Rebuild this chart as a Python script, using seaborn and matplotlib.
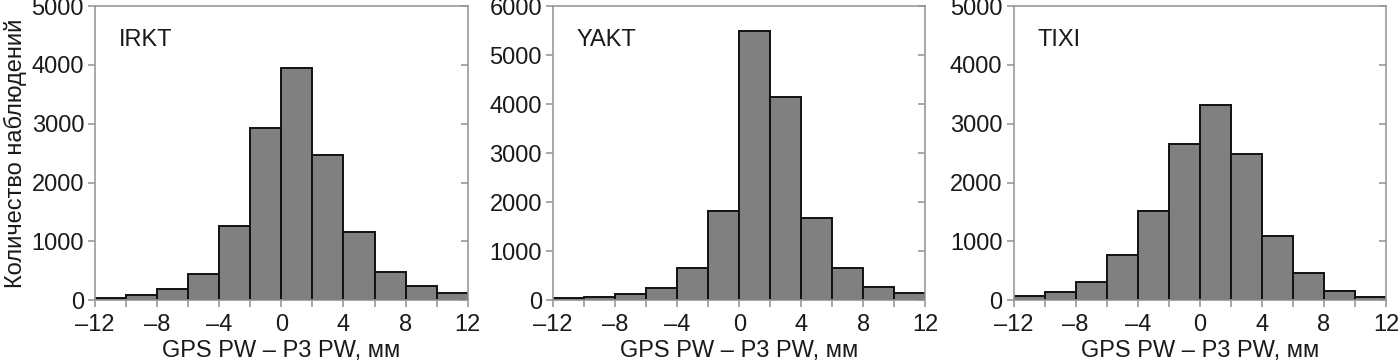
import numpy as np
import pandas as pd
import matplotlib
matplotlib.use("Agg")
import matplotlib.pyplot as plt
import seaborn as sns
from matplotlib.ticker import MultipleLocator

# bin edges (mm) and counts
bin_edges = np.arange(-12, 13, 2)
bin_centers = bin_edges[:-1] + 1

irkt = [40, 80, 190, 450, 1260, 2920, 3940, 2470, 1150, 480, 240, 115]
yakt = [40, 60, 115, 245, 650, 1825, 5490, 4140, 1680, 650, 265, 135]
tixi = [70, 135, 310, 765, 1510, 2650, 3325, 2490, 1085, 460, 150, 50]

stations = ["IRKT", "YAKT", "TIXI"]
counts = [irkt, yakt, tixi]
ymax = [5000, 6000, 5000]

sns.set_theme(style="white")
plt.rcParams["font.family"] = ["Liberation Sans", "DejaVu Sans"]
fs = 17

fig = plt.figure(figsize=(14, 3.62), dpi=100)
lefts = [0.068, 0.395, 0.724]
axes = [fig.add_axes([l, 0.171, 0.266, 0.812]) for l in lefts]

for ax, name, c, ym in zip(axes, stations, counts, ymax):
    df = pd.DataFrame({"diff": bin_centers, "n": c})
    sns.histplot(data=df, x="diff", weights="n", binwidth=2,
                 binrange=(bin_edges[0], bin_edges[-1]), ax=ax,
                 color="#808080", edgecolor="#111111", linewidth=1.4, alpha=1)
    ax.set_xlim(-12, 12)
    ax.set_ylim(0, ym)
    ax.xaxis.set_minor_locator(MultipleLocator(2))
    ax.yaxis.set_major_locator(MultipleLocator(1000))
    ax.set_xticks(np.arange(-12, 13, 4))
    ax.set_xticklabels([str(int(v)).replace("-", "\u2013") for v in np.arange(-12, 13, 4)])
    for s in ax.spines.values():
        s.set_color("#999999")
        s.set_linewidth(1.2)
    ax.tick_params(axis="x", which="both", direction="out", length=5, color="#999999",
                   width=1.2, bottom=True, labelsize=fs, labelcolor="#1a1a1a", pad=5)
    ax.tick_params(axis="y", which="major", direction="out", length=5, color="#999999",
                   width=1.2, left=True, labelsize=fs, labelcolor="#1a1a1a", pad=3)
    ax2 = ax.secondary_yaxis("right")
    ax2.yaxis.set_major_locator(MultipleLocator(1000))
    ax2.tick_params(direction="in", length=5, color="#999999", width=1.2, labelright=False)
    ax2.spines["right"].set_visible(False)
    ax.set_xlabel("GPS PW \u2013 P3 PW, мм", fontsize=fs, color="#1a1a1a", labelpad=3)
    ax.set_ylabel("")
    ax.text(0.064, 0.885, name, transform=ax.transAxes, fontsize=fs,
            color="#1a1a1a", va="center", ha="left")

axes[0].set_ylabel("Количество наблюдений", fontsize=fs, color="#1a1a1a", labelpad=3)

fig.savefig("out.png", dpi=100)
